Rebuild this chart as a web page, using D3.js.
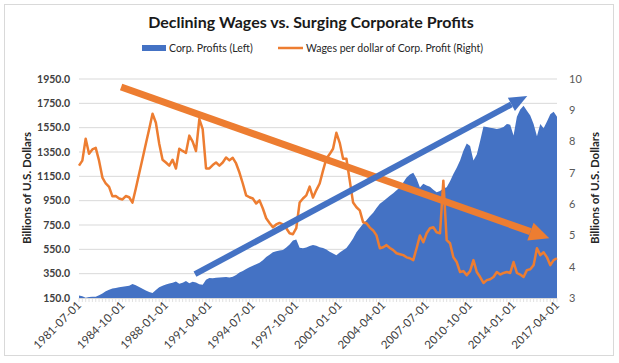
<!DOCTYPE html>
<html>
<head>
<meta charset="utf-8">
<script src="https://cdn.jsdelivr.net/npm/d3@7"></script>
<style>
  body { margin: 0; background: #fff; }
  text { font-family: Lato, "Open Sans", sans-serif; }
</style>
</head>
<body>
<div id="chart"></div>
<script>
// quarterly categories 1981-07-01 .. 2017-04-01
const fmt = d3.timeFormat('%Y-%m-%d');
const quarters = d3.timeMonth.every(3).range(new Date(1981, 6, 1), new Date(2017, 6, 1)).map(fmt);

const tickLabels = ['1981-07-01', '1984-10-01', '1988-01-01', '1991-04-01', '1994-07-01', '1997-10-01',
  '2001-01-01', '2004-04-01', '2007-07-01', '2010-10-01', '2014-01-01', '2017-04-01'];

// Corp. profits, billions (left axis)
const profits = [
  170, 165, 152, 158, 160, 160, 172, 188, 205, 218, 228, 232, 238, 242, 246, 250,
  265, 255, 240, 226, 212, 200, 192, 215, 238, 250, 260, 270, 276, 285, 268, 276,
  290, 272, 283, 278, 262, 258, 300, 314, 312, 316, 318, 320, 322, 318, 324, 340,
  360, 372, 388, 402, 415, 428, 440, 460, 486, 505, 527, 535, 540, 545, 565, 590,
  622, 630, 562, 558, 565, 578, 585, 580, 568, 560, 548, 530, 515, 502, 525, 543,
  560, 598, 640, 690, 725, 760, 790, 822, 850, 890, 925, 945, 968, 990, 1010, 1035,
  1058, 1100, 1140, 1165, 1180, 1130, 1058, 1090, 1075, 1065, 1040, 1020, 1030, 1050, 1060, 1110,
  1170, 1220, 1280, 1360, 1420, 1400, 1280, 1330, 1440, 1560, 1555, 1550, 1545, 1540, 1545, 1555,
  1580, 1575, 1485, 1640, 1700, 1730, 1690, 1650, 1580, 1480, 1580, 1545, 1600, 1660, 1680, 1640
];

// Wages per dollar of corp. profit (right axis)
const wages = [
  7.23, 7.39, 8.09, 7.61, 7.75, 7.80, 7.39, 6.85, 6.66, 6.55, 6.25, 6.26, 6.18, 6.15, 6.26, 6.22,
  6.05, 6.50, 6.98, 7.45, 7.93, 8.40, 8.89, 8.60, 7.93, 7.42, 7.33, 7.23, 7.42, 7.14, 7.77, 7.70,
  7.64, 8.19, 8.00, 7.70, 8.72, 8.40, 7.14, 7.14, 7.25, 7.33, 7.23, 7.33, 7.49, 7.40, 7.48, 7.30,
  7.01, 6.66, 6.28, 6.22, 6.18, 6.02, 6.12, 5.86, 5.55, 5.40, 5.26, 5.35, 5.40, 5.35, 5.23, 5.07,
  5.04, 5.23, 6.05, 6.18, 6.28, 6.56, 6.21, 6.45, 6.66, 7.07, 7.45, 7.60, 7.77, 8.28, 7.96, 7.45,
  7.45, 6.75, 6.05, 5.90, 5.80, 5.42, 5.39, 5.25, 5.16, 5.00, 4.59, 4.62, 4.69, 4.60, 4.53, 4.43,
  4.40, 4.37, 4.30, 4.27, 4.21, 4.59, 5.00, 4.78, 5.07, 5.23, 5.26, 5.10, 5.07, 6.75, 4.85, 4.75,
  4.30, 4.15, 3.83, 3.86, 3.73, 3.86, 4.21, 3.83, 3.67, 3.48, 3.57, 3.60, 3.67, 3.83, 3.75, 3.80,
  3.83, 3.80, 4.15, 3.80, 3.75, 3.67, 3.89, 3.92, 4.05, 4.59, 4.37, 4.46, 4.30, 4.05, 4.21, 4.27
];

const leftTicks = [150, 350, 550, 750, 950, 1150, 1350, 1550, 1750, 1950];
const rightTicks = [3, 4, 5, 6, 7, 8, 9, 10];

// trend arrows, in (category index, left-axis value)
const trendArrows = [
  { from: [12.6, 1884], to: [140.7, 641], color: '#ED7D31', width: 7, head: 20, headW: 19 },
  { from: [34.7, 346], to: [134.1, 1811], color: '#4472C4', width: 6, head: 18, headW: 15 }
];

const W = 619, H = 363;
const plot = { left: 79, right: 557, top: 79, bottom: 298 };

const svg = d3.select('#chart').append('svg')
  .attr('width', W).attr('height', H);

svg.append('rect')
  .attr('x', 4.5).attr('y', 4.5).attr('width', 609).attr('height', 351)
  .attr('fill', '#fff').attr('stroke', '#D9D9D9');

const x = d3.scalePoint().domain(quarters).range([plot.left, plot.right]);
const yL = d3.scaleLinear().domain([150, 1950]).range([plot.bottom, plot.top]);
const yR = d3.scaleLinear().domain([3, 10]).range([plot.bottom, plot.top]);

// gridlines
svg.append('g').selectAll('line').data(leftTicks.slice(1)).join('line')
  .attr('x1', plot.left).attr('x2', plot.right)
  .attr('y1', d => yL(d)).attr('y2', d => yL(d))
  .attr('stroke', '#D9D9D9').attr('stroke-width', 1);

// area
const area = d3.area()
  .x((d, i) => x(quarters[i]))
  .y0(yL(150))
  .y1(d => yL(d));
svg.append('path').datum(profits)
  .attr('d', area).attr('fill', '#4472C4');

// wages line
const line = d3.line()
  .x((d, i) => x(quarters[i]))
  .y(d => yR(d));
svg.append('path').datum(wages)
  .attr('d', line).attr('fill', 'none')
  .attr('stroke', '#ED7D31').attr('stroke-width', 2.5)
  .attr('stroke-linejoin', 'round');

// x axis line + category ticks
svg.append('line')
  .attr('x1', plot.left).attr('x2', plot.right)
  .attr('y1', plot.bottom + 0.5).attr('y2', plot.bottom + 0.5)
  .attr('stroke', '#D9D9D9');
svg.append('g').selectAll('line').data(quarters).join('line')
  .attr('x1', d => x(d)).attr('x2', d => x(d))
  .attr('y1', plot.bottom).attr('y2', plot.bottom + 4)
  .attr('stroke', '#D9D9D9').attr('stroke-width', 0.8);

// x labels
svg.append('g').selectAll('text').data(tickLabels).join('text')
  .attr('transform', d => `translate(${x(d) + 3},${plot.bottom + 8}) rotate(-45)`)
  .attr('text-anchor', 'end')
  .attr('font-size', 11.5)
  .attr('fill', '#404040')
  .text(d => d);

// left axis labels
svg.append('g').selectAll('text').data(leftTicks).join('text')
  .attr('x', 70).attr('y', d => yL(d)).attr('dy', '0.35em')
  .attr('text-anchor', 'end')
  .attr('font-size', 10.5).attr('font-weight', 'bold')
  .attr('fill', '#404040')
  .text(d => d.toFixed(1));

// right axis labels
svg.append('g').selectAll('text').data(rightTicks).join('text')
  .attr('x', 569).attr('y', d => yR(d)).attr('dy', '0.35em')
  .attr('text-anchor', 'start')
  .attr('font-size', 11)
  .attr('fill', '#595959')
  .text(d => d);

// axis titles
svg.append('text')
  .attr('transform', 'translate(31,188) rotate(-90)')
  .attr('text-anchor', 'middle')
  .attr('font-size', 11.5).attr('font-weight', 'bold').attr('fill', '#262626')
  .text('Billions of U.S. Dollars');
svg.append('text')
  .attr('transform', 'translate(599,188) rotate(-90)')
  .attr('text-anchor', 'middle')
  .attr('font-size', 11.5).attr('font-weight', 'bold').attr('fill', '#262626')
  .text('Billions of U.S. Dollars');

// arrows
trendArrows.forEach(a => {
  const x0 = d3.scaleLinear().domain([0, quarters.length - 1]).range([plot.left, plot.right]);
  const p0 = [x0(a.from[0]), yL(a.from[1])];
  const p1 = [x0(a.to[0]), yL(a.to[1])];
  const ang = Math.atan2(p1[1] - p0[1], p1[0] - p0[0]);
  const bx = p1[0] - a.head * Math.cos(ang), by = p1[1] - a.head * Math.sin(ang);
  svg.append('line')
    .attr('x1', p0[0]).attr('y1', p0[1]).attr('x2', bx).attr('y2', by)
    .attr('stroke', a.color).attr('stroke-width', a.width);
  const nx = -Math.sin(ang) * a.headW / 2, ny = Math.cos(ang) * a.headW / 2;
  svg.append('path')
    .attr('d', `M${p1[0]},${p1[1]}L${bx + nx},${by + ny}L${bx - nx},${by - ny}Z`)
    .attr('fill', a.color);
});

// title
svg.append('text')
  .attr('x', 311).attr('y', 28)
  .attr('text-anchor', 'middle')
  .attr('font-size', 16).attr('font-weight', 'bold').attr('fill', '#1a1a1a')
  .text('Declining Wages vs. Surging Corporate Profits');

// legend
const lg = svg.append('g');
lg.append('rect').attr('x', 142).attr('y', 45).attr('width', 24).attr('height', 6).attr('fill', '#4472C4');
lg.append('text').attr('x', 169).attr('y', 48).attr('dy', '0.35em')
  .attr('font-size', 10.5).attr('fill', '#262626').text('Corp. Profits (Left)');
lg.append('line').attr('x1', 278).attr('x2', 303).attr('y1', 48).attr('y2', 48)
  .attr('stroke', '#ED7D31').attr('stroke-width', 2.5);
lg.append('text').attr('x', 306).attr('y', 48).attr('dy', '0.35em')
  .attr('font-size', 10.5).attr('fill', '#262626').text('Wages per dollar of Corp. Profit (Right)');
</script>
</body>
</html>
